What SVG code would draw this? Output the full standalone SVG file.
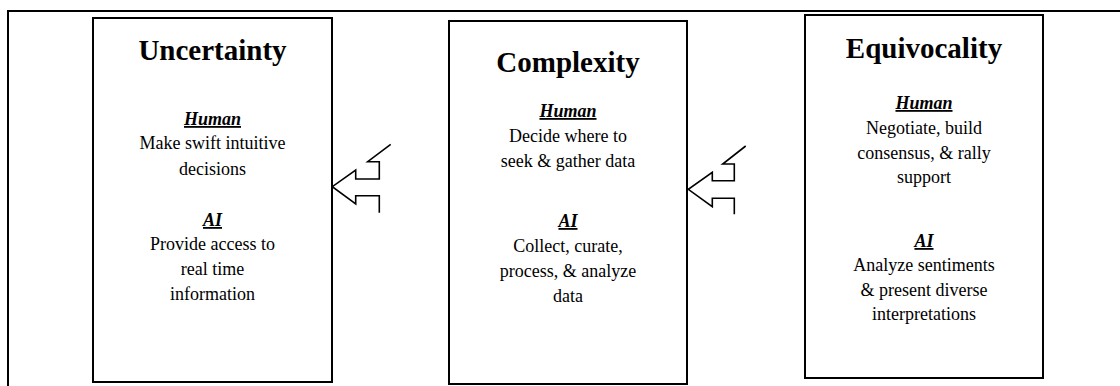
<svg xmlns="http://www.w3.org/2000/svg" width="1120" height="386" viewBox="0 0 1120 386">
<style>
.frame{fill:none;stroke:#000;stroke-width:2}
.box{fill:#fff;stroke:#000;stroke-width:2}
.arrow{fill:none;stroke:#000;stroke-width:1.6;stroke-linejoin:miter}
text{font-family:"Liberation Serif","Times New Roman",serif;fill:#000;text-anchor:middle}
.title{font-size:29px;font-weight:bold}
.head{font-size:18px;font-weight:bold;font-style:italic;text-decoration:underline}
.body{font-size:18px}
</style>
<rect width="1120" height="386" fill="#fff"/>
<path class="frame" d="M8,386 V11 H1120"/>
<g id="uncertainty">
<rect class="box" x="93" y="18" width="239" height="364"/>
<text class="title" x="212.5" y="60">Uncertainty</text>
<text class="head" x="212.5" y="125">Human</text>
<text class="body" x="212.5" y="149">Make swift intuitive</text>
<text class="body" x="212.5" y="175">decisions</text>
<text class="head" x="212.5" y="226">AI</text>
<text class="body" x="212.5" y="250">Provide access to</text>
<text class="body" x="212.5" y="275">real time</text>
<text class="body" x="212.5" y="300">information</text>
</g>
<g id="complexity">
<rect class="box" x="449" y="21" width="238" height="363"/>
<text class="title" x="568" y="72">Complexity</text>
<text class="head" x="568" y="117">Human</text>
<text class="body" x="568" y="142">Decide where to</text>
<text class="body" x="568" y="167">seek &amp; gather data</text>
<text class="head" x="568" y="227">AI</text>
<text class="body" x="568" y="252">Collect, curate,</text>
<text class="body" x="568" y="277">process, &amp; analyze</text>
<text class="body" x="568" y="302">data</text>
</g>
<g id="equivocality">
<rect class="box" x="805" y="15" width="238" height="363"/>
<text class="title" x="924" y="58">Equivocality</text>
<text class="head" x="924" y="109">Human</text>
<text class="body" x="924" y="134">Negotiate, build</text>
<text class="body" x="924" y="159">consensus, &amp; rally</text>
<text class="body" x="924" y="183">support</text>
<text class="head" x="924" y="247">AI</text>
<text class="body" x="924" y="271">Analyze sentiments</text>
<text class="body" x="924" y="296">&amp; present diverse</text>
<text class="body" x="924" y="320">interpretations</text>
</g>
<g id="connectors">
<path class="arrow" d="M390.7,144.3 L367.7,161.7 H379.3 V179 H355.7 V170 L332.3,186.7 L355.7,204 V195.7 H379.3 V212.7"/>
<path class="arrow" d="M745.7,146 L722.7,164 H734.3 V180.7 H712.3 V172.3 L688.3,189.3 L712.3,206.7 V198.3 H734.3 V214.3"/>
</g>
</svg>
